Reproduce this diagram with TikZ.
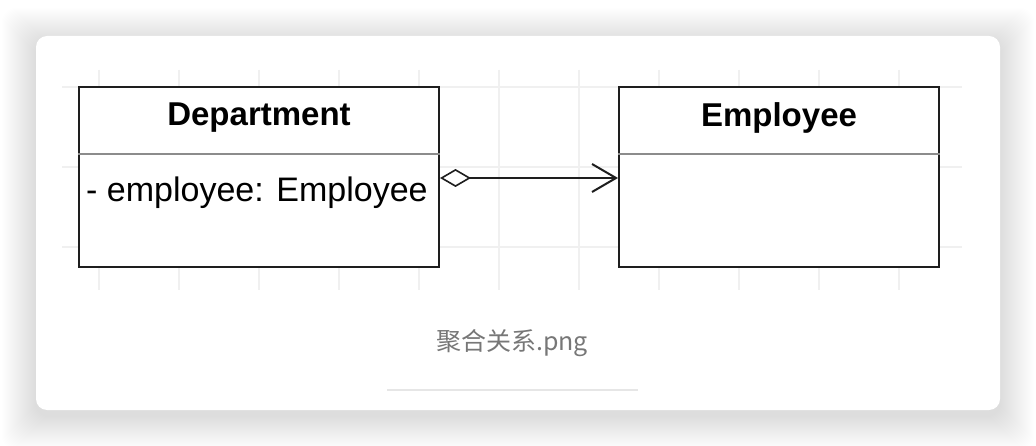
\documentclass[tikz,border=0pt]{standalone}
\usepackage{fontspec}
\setmainfont{Liberation Sans}
\newfontfamily\cjk{Noto Sans CJK SC}
\usetikzlibrary{positioning,arrows.meta}

\definecolor{inkline}{HTML}{1E1E1E}
\definecolor{gridgray}{HTML}{F0F0F0}
\definecolor{rulegray}{HTML}{8C8C8C}
\definecolor{capgray}{HTML}{777777}
\definecolor{sepgray}{HTML}{E6E6E6}

\begin{document}
\begin{tikzpicture}
  [x=1pt, y=-1pt,
   umlclass/.style={draw=inkline, line width=2pt, fill=none, inner sep=0pt,
                    minimum height=180pt},
   classname/.style={font=\bfseries\fontsize{33}{40}\selectfont, inner sep=0pt},
   attr/.style={font=\fontsize{34}{40}\selectfont, inner sep=0pt, anchor=west},
   divider/.style={draw=rulegray, line width=1.5pt},
   gridline/.style={draw=gridgray, line width=1.5pt},
   aggr/.style={draw=inkline, line width=2pt,
                {Diamond[open, length=31pt, width=18pt, line width=1.6pt]}-{Straight Barb[length=24pt, width=28pt, line width=2pt]}},
   caption/.style={font=\cjk\fontsize{25}{30}\selectfont, text=capgray, inner sep=0pt}]
  \useasboundingbox (0,0) rectangle (1036,446);
  \fill[white] (0,0) rectangle (1036,446);
  % soft shadow round the card
  \foreach \r in {1,...,34}
    \fill[black, opacity=0.0045, rounded corners=14pt]
      (36-\r,36-\r+6) rectangle (1000+\r,410+\r+6);
  \fill[white, rounded corners=11pt] (36,36) rectangle (1000,410);

  % faint grid behind the diagram
  \foreach \x in {99,179,...,939}
    \draw[gridline] (\x,70) -- (\x,290);
  \foreach \y in {87,167,247}
    \draw[gridline] (62,\y) -- (962,\y);

  % the two classes
  \node[umlclass, fill=white, minimum width=360pt] (dept) at (259,177) {};
  \node[umlclass, fill=white, minimum width=320pt] (emp) at (779,177) {};

  \node[classname] (deptname) at ([yshift=-32pt]dept.north) {Department};
  \node[classname] (empname) at ([yshift=-32pt]emp.north) {Employee};

  \draw[divider] ([yshift=-68pt]dept.north west) -- ([yshift=-68pt]dept.north east);
  \draw[divider] ([yshift=-68pt]emp.north west) -- ([yshift=-68pt]emp.north east);

  \node[attr] (deptattr) at ([xshift=8pt, yshift=-107pt]dept.north west) {- employee: Employee};

  % aggregation
  \draw[aggr] ([yshift=-1pt]dept.east) -- ([yshift=-1pt]emp.west);

  % caption
  \node[caption] (cap) at (512,343) {聚合关系.png};
  \draw[sepgray, line width=1.5pt] (387,390) -- (638,390);
\end{tikzpicture}
\end{document}
